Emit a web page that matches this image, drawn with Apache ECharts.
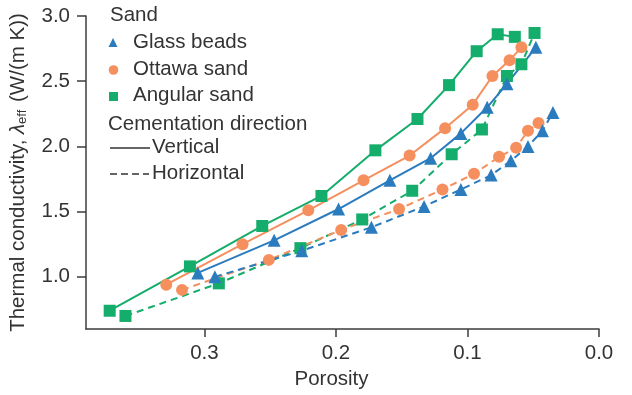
<!DOCTYPE html>
<html>
<head>
<meta charset="utf-8">
<script src="https://cdn.jsdelivr.net/npm/echarts@6/dist/echarts.min.js"></script>
<style>
  html, body { margin: 0; padding: 0; background: #fff; }
  #chart { width: 632px; height: 395px; }
</style>
</head>
<body>
<div id="chart"></div>
<script>
// Effective thermal conductivity against porosity, three sands,
// cemented in the vertical (solid) and horizontal (dashed) direction.

// Glass beads
const glassVertPorosity = [0.305, 0.247, 0.198, 0.159, 0.128, 0.105, 0.085, 0.070, 0.048];
const glassVertK        = [1.03, 1.28, 1.52, 1.74, 1.91, 2.10, 2.30, 2.48, 2.76];
const glassHorPorosity  = [0.292, 0.226, 0.173, 0.133, 0.105, 0.082, 0.067, 0.054, 0.043, 0.035];
const glassHorK         = [1.00, 1.20, 1.38, 1.54, 1.67, 1.78, 1.89, 2.00, 2.12, 2.26];

// Ottawa sand
const ottawaVertPorosity = [0.329, 0.271, 0.221, 0.179, 0.144, 0.117, 0.096, 0.081, 0.068, 0.059];
const ottawaVertK        = [0.94, 1.25, 1.51, 1.74, 1.93, 2.14, 2.32, 2.54, 2.66, 2.76];
const ottawaHorPorosity  = [0.317, 0.251, 0.196, 0.152, 0.119, 0.095, 0.076, 0.063, 0.054, 0.046];
const ottawaHorK         = [0.90, 1.13, 1.36, 1.52, 1.67, 1.79, 1.92, 1.99, 2.12, 2.18];

// Angular sand
const angularVertPorosity = [0.372, 0.311, 0.256, 0.211, 0.170, 0.138, 0.114, 0.093, 0.077, 0.064];
const angularVertK        = [0.74, 1.08, 1.39, 1.62, 1.97, 2.21, 2.47, 2.73, 2.86, 2.84];
const angularHorPorosity  = [0.360, 0.289, 0.227, 0.180, 0.142, 0.112, 0.089, 0.070, 0.059, 0.049];
const angularHorK         = [0.70, 0.95, 1.22, 1.44, 1.66, 1.94, 2.13, 2.54, 2.63, 2.87];

// Tick labels
const xTicks = [0.0, 0.1, 0.2, 0.3];
const yTicks = [1.0, 1.5, 2.0, 2.5, 3.0];

const sandNames = ['Glass beads', 'Ottawa sand', 'Angular sand'];
const directionNames = ['Vertical', 'Horizontal'];

const COLORS = { glass: '#2b7bbf', ottawa: '#f68f5e', angular: '#14ad6b' };
const AXIS = '#3d3d3d';
const TEXT = '#333333';
const FONT = 'Liberation Sans, Arial, sans-serif';
const KEY_FONT = '20.5px ' + FONT;

function pairs(xs, ys) { return xs.map((x, i) => [x, ys[i]]); }

function lineSeries(name, xs, ys, color, symbol, size, dashed) {
  return {
    type: 'line',
    name: name,
    data: pairs(xs, ys),
    symbol: symbol,
    symbolSize: size,
    itemStyle: { color: color },
    lineStyle: { color: color, width: 2, type: dashed ? [7, 5] : 'solid' },
    silent: true,
    animation: false
  };
}

const chart = echarts.init(document.getElementById('chart'), null, { renderer: 'canvas' });

const legendX = 108;
const option = {
  backgroundColor: '#ffffff',
  grid: { left: 86, right: 33, top: 16, bottom: 59 },
  xAxis: {
    type: 'value',
    inverse: true,
    min: 0,
    max: 0.39,
    name: 'Porosity',
    nameLocation: 'middle',
    nameGap: 40,
    nameTextStyle: { fontFamily: FONT, fontSize: 20.5, color: TEXT, padding: [0, 22, 0, 0] },
    splitLine: { show: false },
    axisLine: { onZero: false, lineStyle: { color: AXIS, width: 1.5 } },
    axisTick: { customValues: xTicks, length: 8, lineStyle: { color: AXIS, width: 1.5 } },
    axisLabel: {
      customValues: xTicks,
      margin: 14,
      fontFamily: FONT, fontSize: 20.5, color: TEXT,
      formatter: v => v.toFixed(1)
    }
  },
  yAxis: {
    type: 'value',
    min: 0.6,
    max: 3.0,
    name: 'Thermal conductivity, {it|λ}{sub|eff} (W/(m K))',
    nameLocation: 'middle',
    nameGap: 57,
    nameTextStyle: {
      fontFamily: FONT, fontSize: 20.5, color: TEXT,
      rich: {
        it: { fontFamily: FONT, fontSize: 20.5, fontStyle: 'italic', color: TEXT },
        sub: { fontFamily: FONT, fontSize: 13, color: TEXT, verticalAlign: 'bottom', padding: [0, 2, 0, 0] }
      }
    },
    splitLine: { show: false },
    axisLine: { onZero: false, lineStyle: { color: AXIS, width: 1.5 } },
    axisTick: { customValues: yTicks, length: 9, lineStyle: { color: AXIS, width: 1.5 } },
    axisLabel: {
      customValues: yTicks,
      margin: 16,
      fontFamily: FONT, fontSize: 20.5, color: TEXT,
      formatter: v => v.toFixed(1)
    }
  },
  series: [
    lineSeries('Angular sand, vertical', angularVertPorosity, angularVertK, COLORS.angular, 'rect', 12, false),
    lineSeries('Angular sand, horizontal', angularHorPorosity, angularHorK, COLORS.angular, 'rect', 12, true),
    lineSeries('Ottawa sand, vertical', ottawaVertPorosity, ottawaVertK, COLORS.ottawa, 'circle', 12, false),
    lineSeries('Ottawa sand, horizontal', ottawaHorPorosity, ottawaHorK, COLORS.ottawa, 'circle', 12, true),
    lineSeries('Glass beads, vertical', glassVertPorosity, glassVertK, COLORS.glass, 'triangle', 13, false),
    lineSeries('Glass beads, horizontal', glassHorPorosity, glassHorK, COLORS.glass, 'triangle', 13, true)
  ],
  graphic: [
    // Sand key
    { type: 'text', left: legendX + 2, top: 5, style: { text: 'Sand', font: KEY_FONT, fill: TEXT } },
    { type: 'polygon', shape: { points: [[113, 38], [108.5, 47], [117.5, 47]] }, style: { fill: COLORS.glass } },
    { type: 'text', left: 133, top: 32, style: { text: sandNames[0], font: KEY_FONT, fill: TEXT } },
    { type: 'circle', shape: { cx: 113.5, cy: 70, r: 4.8 }, style: { fill: COLORS.ottawa } },
    { type: 'text', left: 133, top: 59, style: { text: sandNames[1], font: KEY_FONT, fill: TEXT } },
    { type: 'rect', shape: { x: 109, y: 92, width: 9, height: 9 }, style: { fill: COLORS.angular } },
    { type: 'text', left: 133, top: 85, style: { text: sandNames[2], font: KEY_FONT, fill: TEXT } },
    // Cementation direction key
    { type: 'text', left: legendX, top: 114, style: { text: 'Cementation direction', font: KEY_FONT, fill: TEXT } },
    { type: 'line', shape: { x1: 110, y1: 148, x2: 150, y2: 148 }, style: { stroke: TEXT, lineWidth: 1.5 } },
    { type: 'text', left: 152, top: 137, style: { text: directionNames[0], font: KEY_FONT, fill: TEXT } },
    { type: 'line', shape: { x1: 110, y1: 174, x2: 149, y2: 174 }, style: { stroke: TEXT, lineWidth: 1.5, lineDash: [7, 4] } },
    { type: 'text', left: 152, top: 163, style: { text: directionNames[1], font: KEY_FONT, fill: TEXT } }
  ]
};

chart.setOption(option);
</script>
</body>
</html>
